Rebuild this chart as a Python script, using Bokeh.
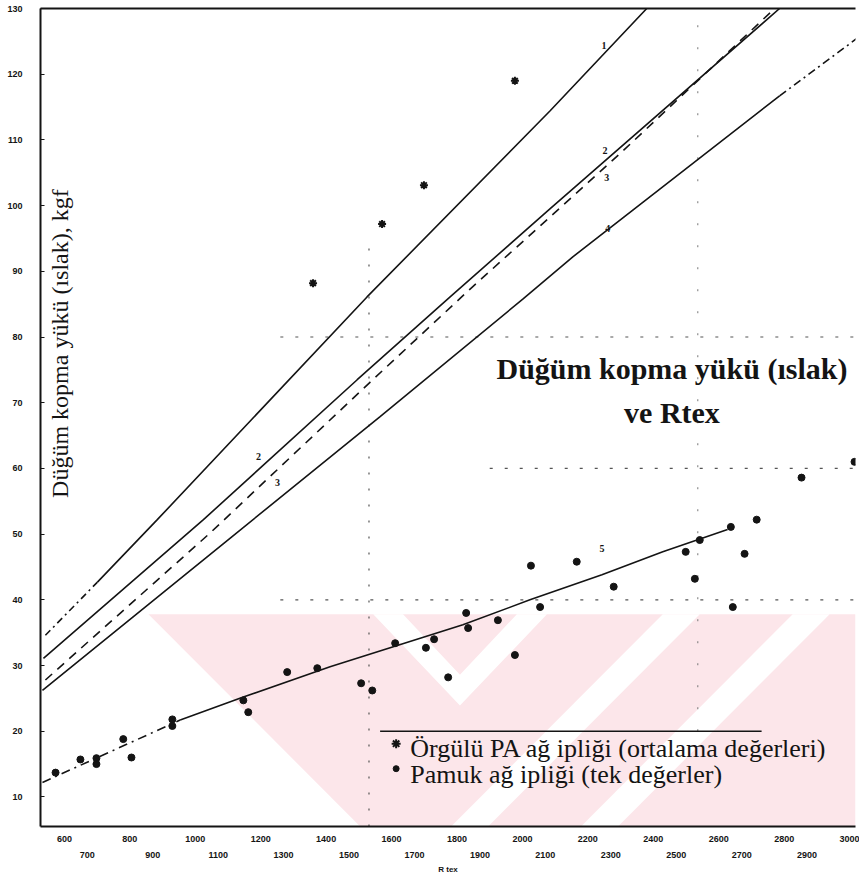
from bokeh.plotting import figure
from bokeh.models import Range1d, LinearAxis, FixedTicker, Label
from bokeh.embed import file_html
from bokeh.resources import INLINE

# ---------------- data ----------------
# x: R tex ; y: knot breaking load (wet), kgf
x_even_ticks = [600, 800, 1000, 1200, 1400, 1600, 1800, 2000, 2200, 2400, 2600, 2800, 3000]
x_odd_ticks = [700, 900, 1100, 1300, 1500, 1700, 1900, 2100, 2300, 2500, 2700, 2900]
y_ticks = [10, 20, 30, 40, 50, 60, 70, 80, 90, 100, 110, 120, 130]

# Örgülü PA ağ ipliği (ortalama değerleri)
pa_tex = [1360, 1571, 1699, 1977]
pa_kgf = [88.2, 97.2, 103.1, 119.0]

# Pamuk ağ ipliği (tek değerler)
cotton_tex = [573, 649, 698, 698, 780, 805, 930, 930, 1147, 1162, 1281, 1373,
              1507, 1541, 1611, 1705, 1730, 1773, 1828, 1834, 1925, 1977, 2026,
              2054, 2166, 2279, 2499, 2527, 2542, 2637, 2643, 2679, 2716, 2853, 3015]
cotton_kgf = [13.7, 15.7, 15.9, 15.0, 18.8, 16.0, 21.8, 20.8, 24.7, 22.9, 29.0, 29.6,
              27.3, 26.2, 33.4, 32.7, 34.0, 28.2, 38.0, 35.7, 36.9, 31.6, 45.2,
              38.9, 45.8, 42.0, 47.3, 43.2, 49.1, 51.1, 38.9, 47.0, 52.2, 58.6, 61.0]

# curves 1-5
line1_tex = [542, 701, 884, 1525, 2084, 2380]
line1_kgf = [34.6, 42.7, 52.2, 86.1, 114.4, 130.0]
line2_tex = [536, 1025, 1495, 1779, 2084, 2786]
line2_kgf = [31.1, 52.2, 73.5, 86.1, 99.5, 130.0]
line3_tex = [542, 1046, 1534, 1840, 2054, 2298, 2771]
line3_kgf = [27.8, 50.2, 73.1, 87.3, 96.9, 107.9, 130.0]
line4_tex = [533, 1107, 1565, 2002, 2154, 2786, 3021]
line4_kgf = [26.2, 49.4, 67.9, 85.8, 92.2, 116.7, 125.4]
line5_tex = [533, 954, 1147, 1412, 1818, 2023, 2243, 2429, 2627]
line5_kgf = [12.2, 21.7, 25.2, 29.8, 36.2, 40.0, 43.8, 47.3, 50.7]

INK = "#141414"
SERIF = "Liberation Serif"
SANS = "Liberation Sans"
PINK = "#fce6ea"

p = figure(width=859, height=883, output_backend="svg", toolbar_location=None,
           x_range=Range1d(527, 3018), y_range=Range1d(5.5, 130),
           x_axis_type=None, y_axis_type=None,
           min_border_left=40, min_border_right=4, min_border_top=8, min_border_bottom=57)
p.outline_line_color = None
p.background_fill_color = "white"
p.border_fill_color = "white"

# faint watermark (light pink with white diagonal bands) in the lower part
p.patch([857, 3018, 3018, 1504], [37.8, 37.8, 5.5, 5.5], fill_color=PINK, line_color=None)
p.patch([1544, 1809, 2075, 1983, 1809, 1635], [37.8, 23.9, 37.8, 37.8, 28.6, 37.8],
        fill_color="white", line_color=None)
p.patch([2429, 2542, 1895, 1782], [37.8, 37.8, 5.5, 5.5], fill_color="white", line_color=None)
p.patch([2826, 2939, 2292, 2179], [37.8, 37.8, 5.5, 5.5], fill_color="white", line_color=None)

# faint dotted guide lines of the scan
for yv, x0 in [(80, 1260), (60, 1900), (40, 1260)]:
    p.line([x0, 3018], [yv, yv], line_color="#555555", line_width=1.2, line_dash="3 12")
p.line([1531, 1531], [5.5, 95], line_color="#555555", line_width=1.2, line_dash="2 14")
p.line([2536, 2536], [20, 128], line_color="#777777", line_width=1.0, line_dash="2 20")

# axes
yax = LinearAxis(ticker=FixedTicker(ticks=y_ticks), axis_line_width=2, axis_line_color=INK,
                 major_tick_in=4, major_tick_out=0, major_tick_line_color=INK,
                 minor_tick_line_color=None, major_label_standoff=18,
                 major_label_text_font=SANS, major_label_text_font_size="9px",
                 major_label_text_font_style="bold", major_label_text_color=INK)
p.add_layout(yax, "left")

top = LinearAxis(ticker=FixedTicker(ticks=[]), axis_line_width=2, axis_line_color=INK,
                 major_tick_line_color=None, minor_tick_line_color=None,
                 major_label_text_font_size="0px")
p.add_layout(top, "above")

xax = LinearAxis(ticker=FixedTicker(ticks=x_even_ticks), axis_line_width=2, axis_line_color=INK,
                 major_tick_in=0, major_tick_out=0, minor_tick_line_color=None,
                 major_label_standoff=9, major_label_text_font=SANS,
                 major_label_text_font_size="9px", major_label_text_font_style="bold",
                 major_label_text_color=INK)
p.add_layout(xax, "below")

p.extra_x_ranges = {"odd": Range1d(557, 3048)}
xax2 = LinearAxis(x_range_name="odd", ticker=FixedTicker(ticks=x_odd_ticks),
                  axis_line_color=None, major_tick_line_color=None, minor_tick_line_color=None,
                  major_label_standoff=1, major_label_text_font=SANS,
                  major_label_text_font_size="9px", major_label_text_font_style="bold",
                  major_label_text_color=INK,
                  axis_label="R tex", axis_label_standoff=4, axis_label_text_font=SANS,
                  axis_label_text_font_size="8px", axis_label_text_font_style="bold",
                  axis_label_text_color=INK)
p.add_layout(xax2, "below")

# curves
def seg(xs, ys, i0, i1, dash):
    p.line(xs[i0:i1 + 1], ys[i0:i1 + 1], line_color=INK, line_width=1.6, line_dash=dash)

seg(line1_tex, line1_kgf, 0, 1, "7 4 2 4")
seg(line1_tex, line1_kgf, 1, len(line1_tex) - 1, "solid")
seg(line2_tex, line2_kgf, 0, len(line2_tex) - 1, "solid")
seg(line3_tex, line3_kgf, 0, len(line3_tex) - 1, "9 7")
seg(line4_tex, line4_kgf, 0, 5, "solid")
seg(line4_tex, line4_kgf, 5, len(line4_tex) - 1, "8 4 2 4")
seg(line5_tex, line5_kgf, 0, 1, "9 5 2 5")
seg(line5_tex, line5_kgf, 1, len(line5_tex) - 1, "solid")

# data points
p.scatter(cotton_tex, cotton_kgf, marker="circle", size=7, fill_color=INK, line_color=INK)
p.scatter(pa_tex, pa_kgf, marker="asterisk", size=8, line_color=INK, line_width=2)

# curve numbers
for tx, ty, t in [(2249, 124.4, "1"), (2252, 108.4, "2"), (2258, 104.3, "3"),
                  (2261, 96.5, "4"), (1193, 61.8, "2"), (1251, 57.9, "3"), (2243, 47.8, "5")]:
    p.add_layout(Label(x=tx, y=ty, text=t, text_font=SERIF, text_font_size="10px",
                       text_font_style="bold", text_color=INK,
                       text_align="center", text_baseline="middle"))

# y axis title inside the plot
p.add_layout(Label(x=588, y=79.0, text="Düğüm kopma yükü (ıslak), kgf", angle=1.5708,
                   text_font=SERIF, text_font_size="24px", text_color=INK,
                   text_align="center", text_baseline="middle"))

# chart title
p.add_layout(Label(x=2457, y=75.2, text="Düğüm kopma yükü (ıslak)", text_font=SERIF,
                   text_font_size="30px", text_font_style="bold", text_color=INK,
                   text_align="center", text_baseline="middle"))
p.add_layout(Label(x=2457, y=68.5, text="ve Rtex", text_font=SERIF,
                   text_font_size="30px", text_font_style="bold", text_color=INK,
                   text_align="center", text_baseline="middle"))

# legend (hand drawn style)
p.line([1565, 2731], [20.0, 20.0], line_color=INK, line_width=1.4)
p.scatter([1614], [18.1], marker="asterisk", size=9, line_color=INK, line_width=2)
p.scatter([1614], [14.3], marker="circle", size=6, fill_color=INK, line_color=INK)
p.add_layout(Label(x=1657, y=17.4, text="Örgülü PA ağ ipliği (ortalama değerleri)",
                   text_font=SERIF, text_font_size="26px", text_color=INK,
                   text_baseline="middle"))
p.add_layout(Label(x=1657, y=13.4, text="Pamuk ağ ipliği (tek değerler)",
                   text_font=SERIF, text_font_size="26px", text_color=INK,
                   text_baseline="middle"))

open("out.html", "w").write(file_html(p, INLINE))
